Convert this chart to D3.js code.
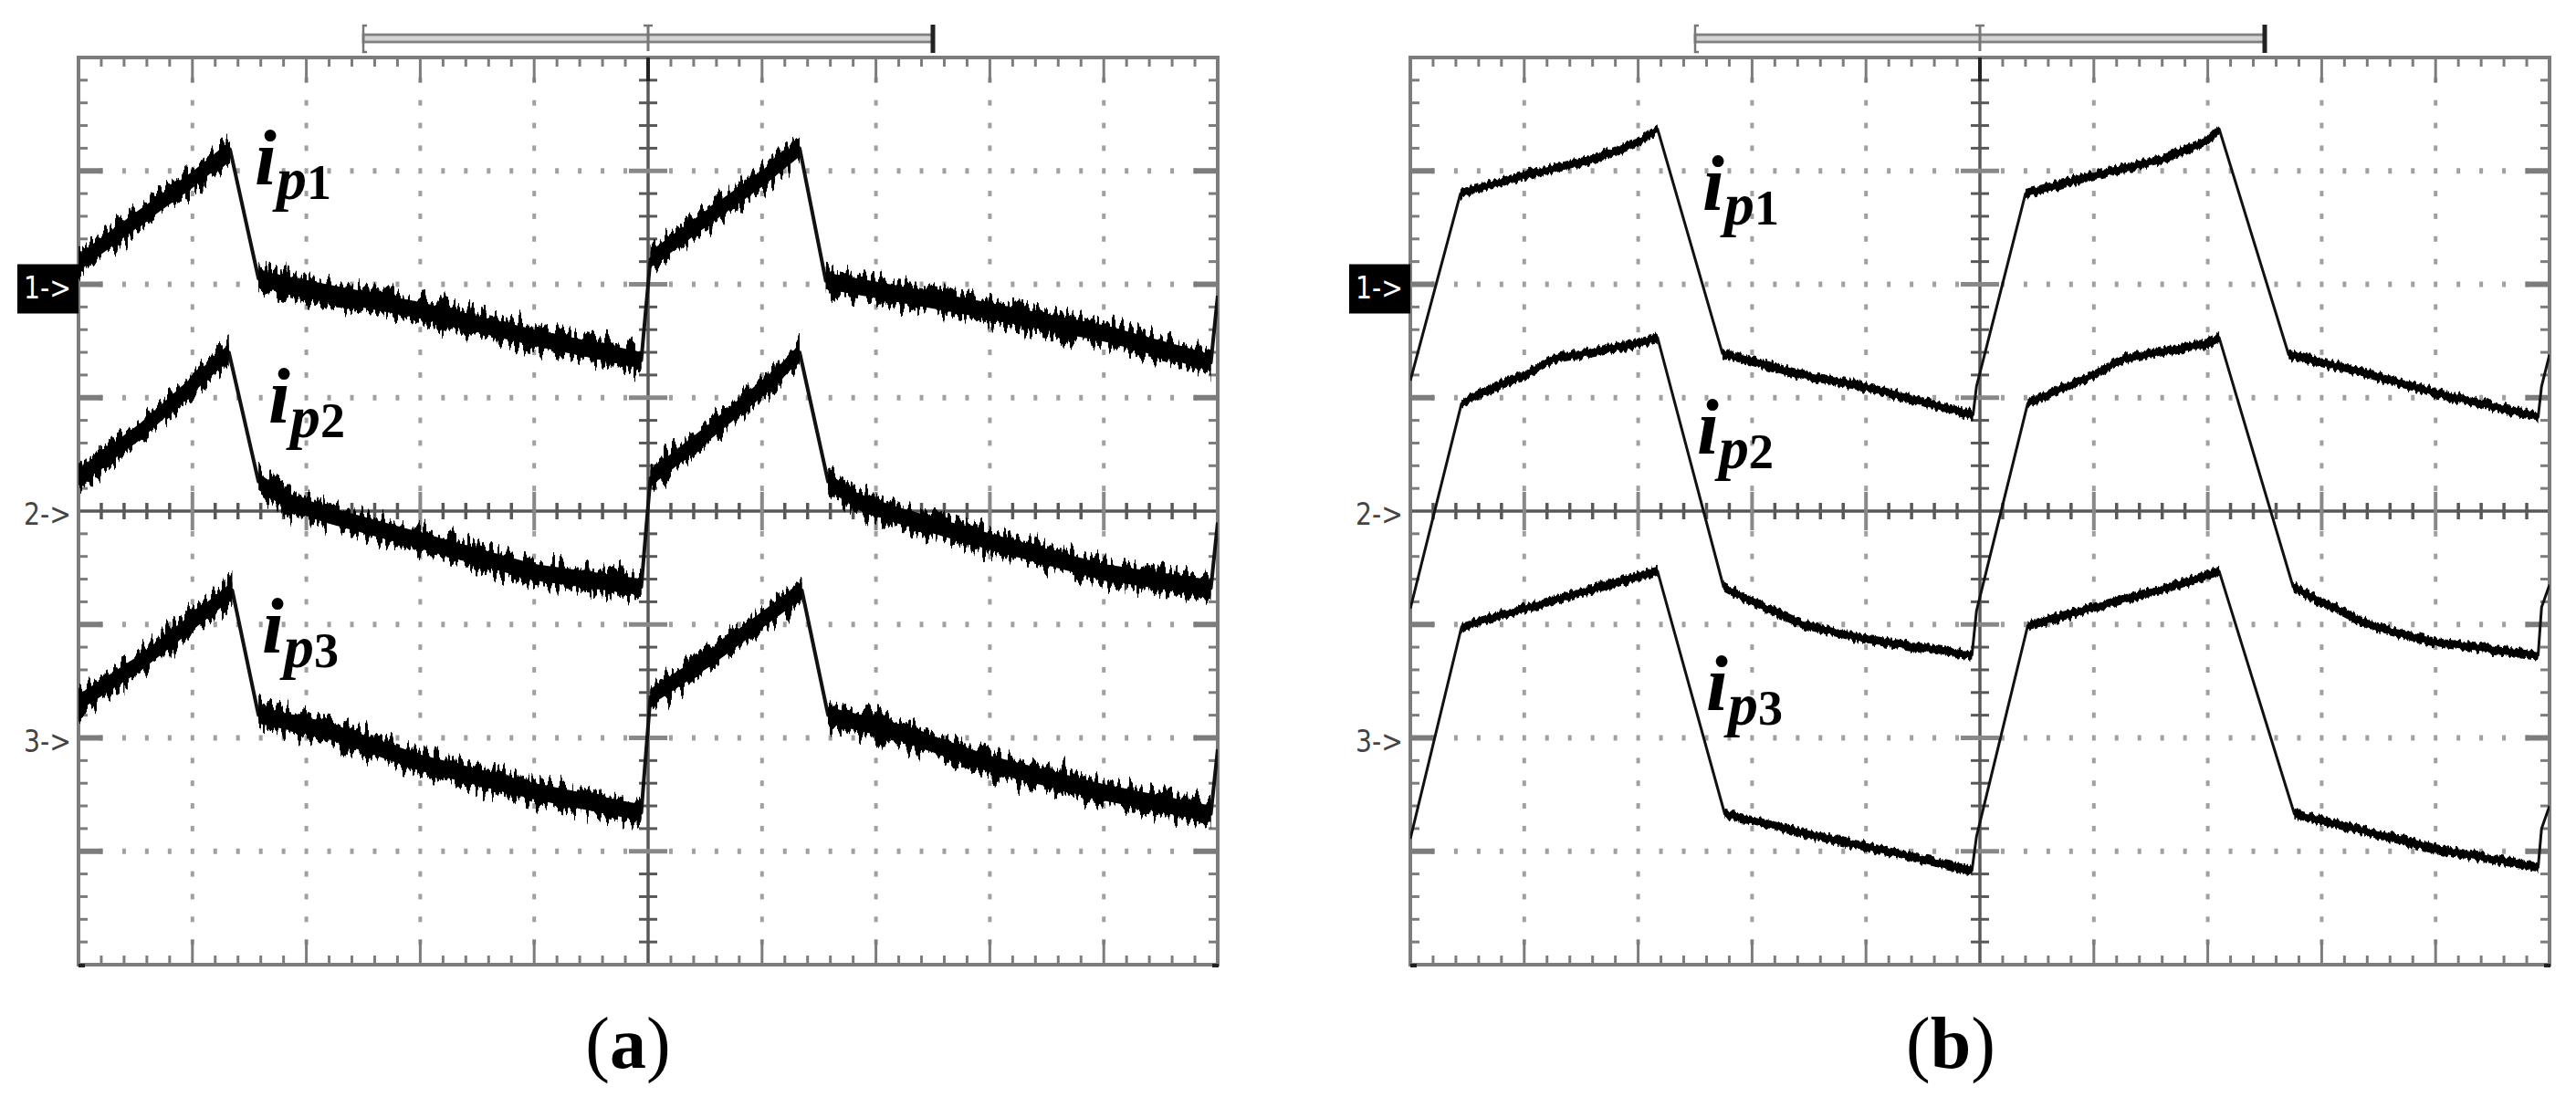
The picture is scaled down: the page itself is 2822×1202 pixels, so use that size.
<!DOCTYPE html>
<html><head><meta charset="utf-8">
<script src="https://cdn.jsdelivr.net/npm/d3@7"></script>
<style>html,body{margin:0;padding:0;background:#fff;}svg{display:block;}</style>
</head><body>
<svg id="c" width="2822" height="1202"></svg>
<script>
// ---------- DATA (values read from the oscilloscope screens) ----------
// x: time in screen divisions (0..10), y: divisions relative to each channel's ground marker
const panelLabels = ["a", "b"];
const channelMarkers = ["1->", "2->", "3->"];
const channelGround = [2, 0, -2];          // ground marker position, divisions from screen centre
const traceSub = ["1", "2", "3"];          // i_p1, i_p2, i_p3

// Panel (a)
const a1x = [0, 0.54, 1.01, 1.33, 1.58, 2.17, 3.0, 4.0, 4.94, 5.02, 5.55, 6.01, 6.33, 6.56, 7.17, 7.81, 9.04, 9.94, 10.0];
const a1y = [0.19, 0.59, 0.93, 1.19, 0.05, -0.07, -0.23, -0.47, -0.67, 0.22, 0.61, 0.94, 1.20, 0.03, -0.08, -0.20, -0.44, -0.69, -0.10];
const a2x = [0, 0.54, 1.32, 1.58, 1.85, 2.17, 3.0, 4.0, 4.94, 5.02, 5.54, 6.13, 6.33, 6.58, 6.85, 7.17, 8.0, 9.0, 9.94, 10.0];
const a2y = [0.30, 0.70, 1.40, 0.26, 0.08, -0.03, -0.26, -0.54, -0.67, 0.29, 0.70, 1.19, 1.40, 0.26, 0.08, -0.03, -0.27, -0.54, -0.68, -0.10];
const a3x = [0, 0.54, 1.35, 1.58, 2.17, 3.0, 4.0, 4.94, 5.02, 5.54, 6.35, 6.58, 7.17, 8.0, 9.0, 9.94, 10.0];
const a3y = [0.31, 0.66, 1.30, 0.20, 0.07, -0.22, -0.47, -0.66, 0.36, 0.70, 1.30, 0.20, 0.06, -0.23, -0.48, -0.67, -0.10];

// Panel (b)
const b1x = [0, 0.44, 1.0, 1.6, 2.0, 2.17, 2.74, 3.45, 3.97, 4.94, 4.97, 5.40, 6.0, 6.6, 7.0, 7.10, 7.71, 8.45, 9.01, 9.90, 9.93, 10.0];
const b1y = [-0.85, 0.80, 0.96, 1.10, 1.25, 1.37, -0.61, -0.80, -0.90, -1.15, -0.90, 0.80, 0.96, 1.10, 1.27, 1.37, -0.62, -0.80, -0.96, -1.17, -0.90, -0.62];
const b2x = [0, 0.45, 0.6, 1.0, 1.25, 2.0, 2.17, 2.75, 3.0, 3.45, 4.0, 4.93, 4.97, 5.42, 5.6, 6.0, 6.25, 7.0, 7.10, 7.75, 8.0, 8.45, 9.01, 9.90, 9.93, 10.0];
const b2y = [-0.86, 0.95, 1.03, 1.20, 1.34, 1.48, 1.53, -0.67, -0.80, -1.00, -1.13, -1.27, -0.88, 0.95, 1.03, 1.20, 1.34, 1.48, 1.53, -0.67, -0.80, -1.02, -1.16, -1.27, -0.85, -0.65];
const b3x = [0, 0.45, 1.0, 1.67, 2.17, 2.76, 3.45, 4.0, 4.93, 4.97, 5.42, 6.0, 6.67, 7.10, 7.76, 8.45, 9.01, 9.90, 9.93, 10.0];
const b3y = [-0.89, 0.98, 1.14, 1.33, 1.47, -0.67, -0.84, -0.96, -1.17, -0.87, 0.99, 1.15, 1.33, 1.47, -0.67, -0.84, -0.98, -1.14, -0.80, -0.60];

// ---------- LAYOUT / STYLE ----------
const W = 2822, H = 1202;
const svg = d3.select("#c");
const defs = svg.append("defs");

function noiseFilter(id, fx, fy, scale, seed) {
  const f = defs.append("filter").attr("id", id)
    .attr("filterUnits", "userSpaceOnUse").attr("x", 0).attr("y", 0).attr("width", W).attr("height", H)
    .attr("color-interpolation-filters", "sRGB");
  f.append("feTurbulence").attr("type", "fractalNoise").attr("baseFrequency", fx + " " + fy)
    .attr("numOctaves", 2).attr("seed", seed).attr("result", "t");
  f.append("feColorMatrix").attr("in", "t").attr("type", "matrix")
    .attr("values", "0 0 0 0 0.5  0 1 0 0 0  0 0 0 0 0  0 0 0 0 1").attr("result", "m");
  f.append("feDisplacementMap").attr("in", "SourceGraphic").attr("in2", "m")
    .attr("scale", scale).attr("xChannelSelector", "R").attr("yChannelSelector", "G");
}
noiseFilter("noiseA", 0.22, 0.02, 40, 4);
noiseFilter("noiseB", 0.3, 0.04, 10, 7);

const panels = [
  { key: "a", x0: 86, x1: 1334, y0: 63, y1: 1057, band: 13, core: 9, thin: 4, filter: "noiseA",
    traces: [[a1x, a1y], [a2x, a2y], [a3x, a3y]],
    labels: [[279, 202], [294, 463], [287, 715]], labelX: 688 },
  { key: "b", x0: 1545, x1: 2793, y0: 63, y1: 1057, band: 5, core: 3, thin: 3, filter: "noiseB",
    traces: [[b1x, b1y], [b2x, b2y], [b3x, b3y]],
    labels: [[1865, 230], [1859, 497], [1869, 778]], labelX: 2137 }
];

const GRID = "#a0a0a0", FRAME = "#7c7c7c", AXIS = "#585858";

panels.forEach((P, pi) => {
  const g = svg.append("g");
  const x = d3.scaleLinear().domain([0, 10]).range([P.x0, P.x1]);
  const y = d3.scaleLinear().domain([-4, 4]).range([P.y1, P.y0]);
  const minX = x.ticks(50), minY = y.ticks(40);
  const isInt = v => Math.abs(v - Math.round(v)) < 1e-6;

  // dotted graticule
  const dots = g.append("g").attr("fill", GRID);
  x.ticks(10).filter(k => k > 0 && k < 10 && k !== 5).forEach(k => {
    minY.filter(m => m > -4 && m < 4).forEach(m => {
      dots.append("rect").attr("x", x(k) - 2).attr("y", y(m) - 3).attr("width", 4).attr("height", 6);
    });
  });
  y.ticks(8).filter(j => j > -4 && j < 4 && j !== 0).forEach(j => {
    minX.filter(m => m > 0 && m < 10 && !isInt(m)).forEach(m => {
      dots.append("rect").attr("x", x(m) - 2).attr("y", y(j) - 3).attr("width", 4).attr("height", 6);
    });
  });

  // edge ticks
  const ticks = g.append("g").attr("stroke", FRAME);
  minX.filter(m => m > 0 && m < 10 && m !== 5).forEach(m => {
    const L = isInt(m) ? 27 : 10;
    ticks.append("line").attr("x1", x(m)).attr("x2", x(m)).attr("y1", P.y0).attr("y2", P.y0 + L).attr("stroke-width", 3);
    ticks.append("line").attr("x1", x(m)).attr("x2", x(m)).attr("y1", P.y1).attr("y2", P.y1 - L).attr("stroke-width", 3);
  });
  minY.filter(m => m > -4 && m < 4 && m !== 0).forEach(m => {
    const I = isInt(m), L = I ? 26 : 10, sw = I ? 6 : 3;
    ticks.append("line").attr("x1", P.x0).attr("x2", P.x0 + L).attr("y1", y(m)).attr("y2", y(m)).attr("stroke-width", sw);
    ticks.append("line").attr("x1", P.x1).attr("x2", P.x1 - L).attr("y1", y(m)).attr("y2", y(m)).attr("stroke-width", sw);
  });

  // centre axes with crossing ticks
  const ax = g.append("g").attr("stroke", AXIS);
  ax.append("line").attr("x1", x(5)).attr("x2", x(5)).attr("y1", P.y0).attr("y2", P.y1).attr("stroke-width", 3.5);
  ax.append("line").attr("x1", P.x0).attr("x2", P.x1).attr("y1", y(0)).attr("y2", y(0)).attr("stroke-width", 3.5);
  minY.filter(m => m > -4 && m < 4 && m !== 0).forEach(m => {
    const I = isInt(m), L = I ? 21 : 10;
    ax.append("line").attr("x1", x(5) - L).attr("x2", x(5) + L).attr("y1", y(m)).attr("y2", y(m))
      .attr("stroke-width", I ? 5 : 3).attr("stroke", I ? "#888" : AXIS);
  });
  minX.filter(m => m > 0 && m < 10 && m !== 5).forEach(m => {
    const I = isInt(m), L = I ? 21 : 9;
    ax.append("line").attr("x1", x(m)).attr("x2", x(m)).attr("y1", y(0) - L).attr("y2", y(0) + L)
      .attr("stroke-width", I ? 4 : 3.5).attr("stroke", I ? "#888" : AXIS);
  });

  // frame
  g.append("rect").attr("x", P.x0).attr("y", P.y0).attr("width", P.x1 - P.x0).attr("height", P.y1 - P.y0)
    .attr("fill", "none").attr("stroke", FRAME).attr("stroke-width", 4);
  // trigger mark + corner marks
  g.append("line").attr("x1", x(5)).attr("x2", x(5)).attr("y1", P.y0).attr("y2", P.y0 + 26)
    .attr("stroke", "#222").attr("stroke-width", 4);
  g.append("rect").attr("x", P.x0).attr("y", P.y1 - 1).attr("width", 7).attr("height", 4).attr("fill", "#222");
  g.append("rect").attr("x", P.x1 - 6).attr("y", P.y1 - 1).attr("width", 7).attr("height", 4).attr("fill", "#222");

  // time bar on top
  const tb = g.append("g");
  tb.append("rect").attr("x", x(2.5)).attr("y", 38).attr("width", x(7.5) - x(2.5)).attr("height", 8)
    .attr("fill", "#d4d4d4").attr("stroke", "#808080").attr("stroke-width", 2.8);
  tb.append("path").attr("d", `M${x(2.5) + 4},28 H${x(2.5)} V57 H${x(2.5) + 4}`)
    .attr("fill", "none").attr("stroke", "#777").attr("stroke-width", 2.5);
  tb.append("line").attr("x1", x(5)).attr("x2", x(5)).attr("y1", 27).attr("y2", 56)
    .attr("stroke", "#777").attr("stroke-width", 3);
  tb.append("line").attr("x1", x(5) - 5).attr("x2", x(5) + 5).attr("y1", 28).attr("y2", 28)
    .attr("stroke", "#777").attr("stroke-width", 2.5);
  tb.append("rect").attr("x", x(7.5) - 2.5).attr("y", 27).attr("width", 5).attr("height", 31).attr("fill", "#222");

  // traces
  const clipId = "clip" + P.key;
  defs.append("clipPath").attr("id", clipId).append("rect")
    .attr("x", P.x0).attr("y", P.y0).attr("width", P.x1 - P.x0).attr("height", P.y1 - P.y0);
  const tg = g.append("g").attr("clip-path", `url(#${clipId})`);
  P.traces.forEach((tr, ci) => {
    const pts = tr[0].map((t, i) => [t, tr[1][i] + channelGround[ci]]);
    tg.append("path").attr("d", d3.line().x(d => x(d[0])).y(d => y(d[1]))(pts))
      .attr("fill", "none").attr("stroke", "#111").attr("stroke-width", P.thin).attr("stroke-linejoin", "round");
    // slow (non-switching) segments carry the visible noise band
    const runs = []; let cur = null;
    for (let i = 0; i < pts.length - 1; i++) {
      const dx = pts[i + 1][0] - pts[i][0], dy = pts[i + 1][1] - pts[i][1];
      const slow = Math.abs(dy / dx) < 2;
      if (slow) { if (!cur) { cur = [pts[i]]; runs.push(cur); } cur.push(pts[i + 1]); }
      else cur = null;
    }
    const area = h => d3.area().x(d => x(d[0])).y0(d => y(d[1]) - h).y1(d => y(d[1]) + h);
    runs.forEach(r => {
      tg.append("path").attr("d", area(P.core)(r)).attr("fill", "#000");
      tg.append("path").attr("d", area(P.band)(r)).attr("fill", "#000").attr("filter", `url(#${P.filter})`);
    });
  });

  // channel markers
  channelMarkers.forEach((txt, ci) => {
    const yy = y(channelGround[ci]);
    if (ci === 0) {
      g.append("rect").attr("x", P.x0 - 67).attr("y", yy - 22).attr("width", 67).attr("height", 54).attr("fill", "#000");
    }
    g.append("text").attr("x", P.x0 - 60).attr("y", yy + 15).text(txt)
      .attr("font-family", "'DejaVu Sans Condensed','DejaVu Sans',sans-serif").attr("font-stretch", "condensed")
      .attr("font-size", 33).attr("textLength", 52).attr("lengthAdjust", "spacingAndGlyphs")
      .attr("fill", ci === 0 ? "#fff" : "#444");
  });

  // trace labels i_p1..i_p3
  P.labels.forEach((L, ci) => {
    const t = g.append("text").attr("x", L[0]).attr("y", L[1])
      .attr("font-family", "'Liberation Serif','Times New Roman',serif").attr("font-weight", "bold")
      .attr("font-style", "italic").attr("font-size", 86).attr("fill", "#000");
    t.append("tspan").text("i");
    t.append("tspan").attr("font-size", 66).attr("dy", 16).text("p");
    t.append("tspan").attr("font-size", 54).attr("font-style", "normal").text(traceSub[ci]);
  });

  // panel label
  const pl = g.append("text").attr("x", P.labelX).attr("y", 1170).attr("text-anchor", "middle")
    .attr("font-family", "'Liberation Serif','Times New Roman',serif").attr("font-size", 80).attr("fill", "#000");
  pl.append("tspan").text("(");
  pl.append("tspan").attr("font-weight", "bold").text(panelLabels[pi]);
  pl.append("tspan").text(")");
});
</script>
</body></html>
